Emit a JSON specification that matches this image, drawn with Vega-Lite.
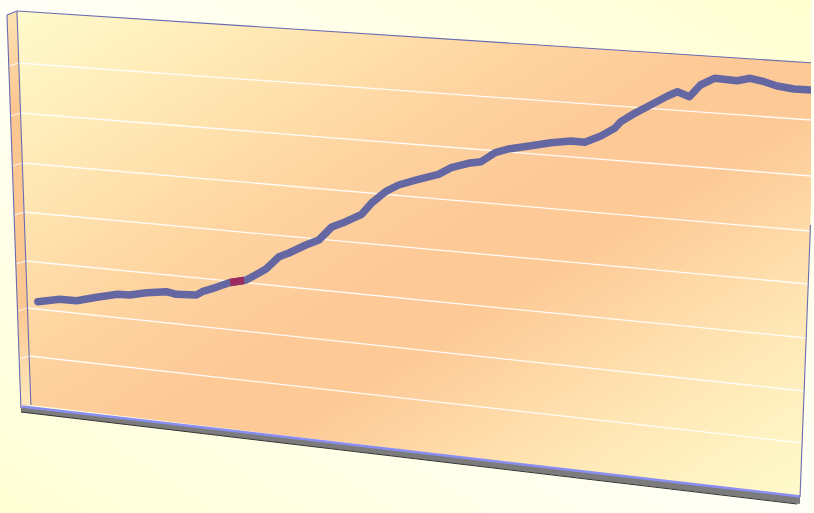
{
  "$schema": "https://vega.github.io/schema/vega-lite/v6.json",
  "width": 814,
  "height": 513,
  "padding": 0,
  "autosize": {"type": "fit", "contains": "padding"},
  "background": "#fffff0",
  "config": {"view": {"stroke": null}},
  "datasets": {
    "bg": [{"x": 0, "x2": 814, "y": 0, "y2": 513}],
    "side": [
      {"x": 7, "y": 15, "y2": 15},
      {"x": 17, "y": 11, "y2": 296},
      {"x": 21, "y": 123.6, "y2": 408},
      {"x": 31, "y": 405, "y2": 405}
    ],
    "wall": [
      {"x": 17, "y": 11, "y2": 11},
      {"x": 31, "y": 11.9, "y2": 405},
      {"x": 803, "y": 62.1, "y2": 497},
      {"x": 814, "y": 62.8, "y2": 205}
    ],
    "grid": [
      {"id": 1, "x": 18.8, "y": 63}, {"id": 1, "x": 814, "y": 120},
      {"id": 2, "x": 20.6, "y": 113}, {"id": 2, "x": 814, "y": 176},
      {"id": 3, "x": 22.4, "y": 163}, {"id": 3, "x": 813, "y": 231},
      {"id": 4, "x": 24.1, "y": 212}, {"id": 4, "x": 811, "y": 284},
      {"id": 5, "x": 25.9, "y": 261}, {"id": 5, "x": 809, "y": 338},
      {"id": 6, "x": 27.6, "y": 308}, {"id": 6, "x": 807, "y": 391},
      {"id": 7, "x": 29.3, "y": 356}, {"id": 7, "x": 805, "y": 443}
    ],
    "sidegrid": [
      {"id": 1, "x": 8.7, "y": 66}, {"id": 1, "x": 18.8, "y": 63},
      {"id": 2, "x": 10.5, "y": 116}, {"id": 2, "x": 20.6, "y": 113},
      {"id": 3, "x": 12.3, "y": 166}, {"id": 3, "x": 22.4, "y": 163},
      {"id": 4, "x": 14.1, "y": 215}, {"id": 4, "x": 24.1, "y": 212},
      {"id": 5, "x": 15.8, "y": 264}, {"id": 5, "x": 25.9, "y": 261},
      {"id": 6, "x": 17.6, "y": 311}, {"id": 6, "x": 27.6, "y": 308},
      {"id": 7, "x": 19.3, "y": 359}, {"id": 7, "x": 29.3, "y": 356}
    ],
    "border": [
      {"id": "top", "x": 17, "y": 11}, {"id": "top", "x": 814, "y": 62.8},
      {"id": "left", "x": 17, "y": 11}, {"id": "left", "x": 31, "y": 405},
      {"id": "right", "x": 803, "y": 497}, {"id": "right", "x": 813.5, "y": 225},
      {"id": "outer", "x": 7, "y": 15}, {"id": "outer", "x": 21, "y": 408},
      {"id": "stop", "x": 7, "y": 15}, {"id": "stop", "x": 17, "y": 11}
    ],
    "floor": [
      {"x": 21, "y": 407, "y2": 412},
      {"x": 803, "y": 496, "y2": 504}
    ],
    "floortop": [
      {"x": 22, "y": 406.5}, {"x": 803, "y": 496.5}
    ],
    "floorbottom": [
      {"x": 21, "y": 412}, {"x": 800, "y": 504}
    ],
    "series": [
      {"x": 38, "y": 301.7}, {"x": 60, "y": 299.3}, {"x": 77, "y": 300.7}, {"x": 97, "y": 297.3},
      {"x": 118, "y": 294.3}, {"x": 130, "y": 295}, {"x": 147, "y": 292.7}, {"x": 167, "y": 291.7},
      {"x": 177, "y": 294.3}, {"x": 197, "y": 295}, {"x": 203, "y": 291.7}, {"x": 217, "y": 287.3},
      {"x": 230, "y": 282.7}, {"x": 243, "y": 280.7}, {"x": 247, "y": 280}, {"x": 260, "y": 273},
      {"x": 267, "y": 269}, {"x": 280, "y": 256.7}, {"x": 290, "y": 253}, {"x": 307, "y": 245},
      {"x": 320, "y": 240}, {"x": 333, "y": 227}, {"x": 347, "y": 221.7}, {"x": 363, "y": 214.3},
      {"x": 373, "y": 203}, {"x": 387, "y": 191.7}, {"x": 400, "y": 185}, {"x": 420, "y": 179.3},
      {"x": 440, "y": 174.3}, {"x": 453, "y": 167.7}, {"x": 470, "y": 163.3}, {"x": 483, "y": 161.7},
      {"x": 497, "y": 152.7}, {"x": 510, "y": 149}, {"x": 533, "y": 145.7}, {"x": 553, "y": 142.7},
      {"x": 573, "y": 141}, {"x": 587, "y": 142.3}, {"x": 603, "y": 136}, {"x": 617, "y": 128.3},
      {"x": 623, "y": 121.7}, {"x": 637, "y": 113.3}, {"x": 653, "y": 105}, {"x": 670, "y": 96},
      {"x": 680, "y": 91.7}, {"x": 692, "y": 96.7}, {"x": 703, "y": 85}, {"x": 717, "y": 78.3},
      {"x": 740, "y": 80.7}, {"x": 753, "y": 78.3}, {"x": 767, "y": 81.7}, {"x": 780, "y": 86},
      {"x": 797, "y": 89}, {"x": 814, "y": 90}
    ],
    "highlight": [
      {"x": 231, "y": 282.5}, {"x": 245, "y": 280.4}
    ]
  },
  "encoding": {
    "x": {"field": "x", "type": "quantitative", "axis": null, "scale": {"domain": [0, 814], "nice": false, "zero": false}},
    "y": {"field": "y", "type": "quantitative", "axis": null, "scale": {"domain": [0, 513], "nice": false, "zero": false, "reverse": true}}
  },
  "layer": [
    {
      "data": {"name": "bg"},
      "mark": {"type": "rect", "fill": {"gradient": "linear", "x1": 0, "y1": 1, "x2": 1, "y2": 0, "stops": [{"offset": 0, "color": "#ffffd4"}, {"offset": 0.5, "color": "#fffff8"}, {"offset": 1, "color": "#ffffd0"}]}},
      "encoding": {"x2": {"field": "x2"}, "y2": {"field": "y2"}}
    },
    {
      "data": {"name": "side"},
      "mark": {"type": "area", "opacity": 1, "fill": {"gradient": "linear", "x1": 0, "y1": 0, "x2": 0, "y2": 1, "stops": [{"offset": 0, "color": "#fde2b2"}, {"offset": 0.25, "color": "#fcc690"}, {"offset": 0.75, "color": "#fcc892"}, {"offset": 1, "color": "#fee9bc"}]}},
      "encoding": {"y2": {"field": "y2"}}
    },
    {
      "data": {"name": "wall"},
      "mark": {"type": "area", "opacity": 1, "fill": {"gradient": "linear", "x1": 0, "y1": 0, "x2": 1, "y2": 1, "stops": [{"offset": 0, "color": "#fffbcc"}, {"offset": 0.2, "color": "#ffe6b2"}, {"offset": 0.35, "color": "#fed5a1"}, {"offset": 0.5, "color": "#fdc997"}, {"offset": 0.6, "color": "#fdc996"}, {"offset": 0.8, "color": "#ffe6b4"}, {"offset": 1, "color": "#fffccd"}]}},
      "encoding": {"y2": {"field": "y2"}}
    },
    {
      "data": {"name": "grid"},
      "mark": {"type": "line", "stroke": "#ffffff", "strokeWidth": 1.3, "opacity": 0.9},
      "encoding": {"detail": {"field": "id"}}
    },
    {
      "data": {"name": "sidegrid"},
      "mark": {"type": "line", "stroke": "#ffffff", "strokeWidth": 1.2, "opacity": 0.85},
      "encoding": {"detail": {"field": "id"}}
    },
    {
      "data": {"name": "floor"},
      "mark": {"type": "area", "opacity": 1, "fill": "#7c7c7c"},
      "encoding": {"y2": {"field": "y2"}}
    },
    {
      "data": {"name": "floortop"},
      "mark": {"type": "line", "stroke": "#8a8df2", "strokeWidth": 2.5},
      "encoding": {}
    },
    {
      "data": {"name": "floorbottom"},
      "mark": {"type": "line", "stroke": "#333333", "strokeWidth": 1},
      "encoding": {}
    },
    {
      "data": {"name": "border"},
      "mark": {"type": "line", "stroke": "#6a6cb0", "strokeWidth": 1.1},
      "encoding": {"detail": {"field": "id"}}
    },
    {
      "data": {"name": "series"},
      "mark": {"type": "line", "stroke": "#6567a2", "strokeWidth": 7.5, "strokeCap": "round", "strokeJoin": "round", "clip": true},
      "encoding": {}
    },
    {
      "data": {"name": "highlight"},
      "mark": {"type": "line", "stroke": "#9b2b5e", "strokeWidth": 7.5, "strokeCap": "butt"},
      "encoding": {}
    }
  ]
}
